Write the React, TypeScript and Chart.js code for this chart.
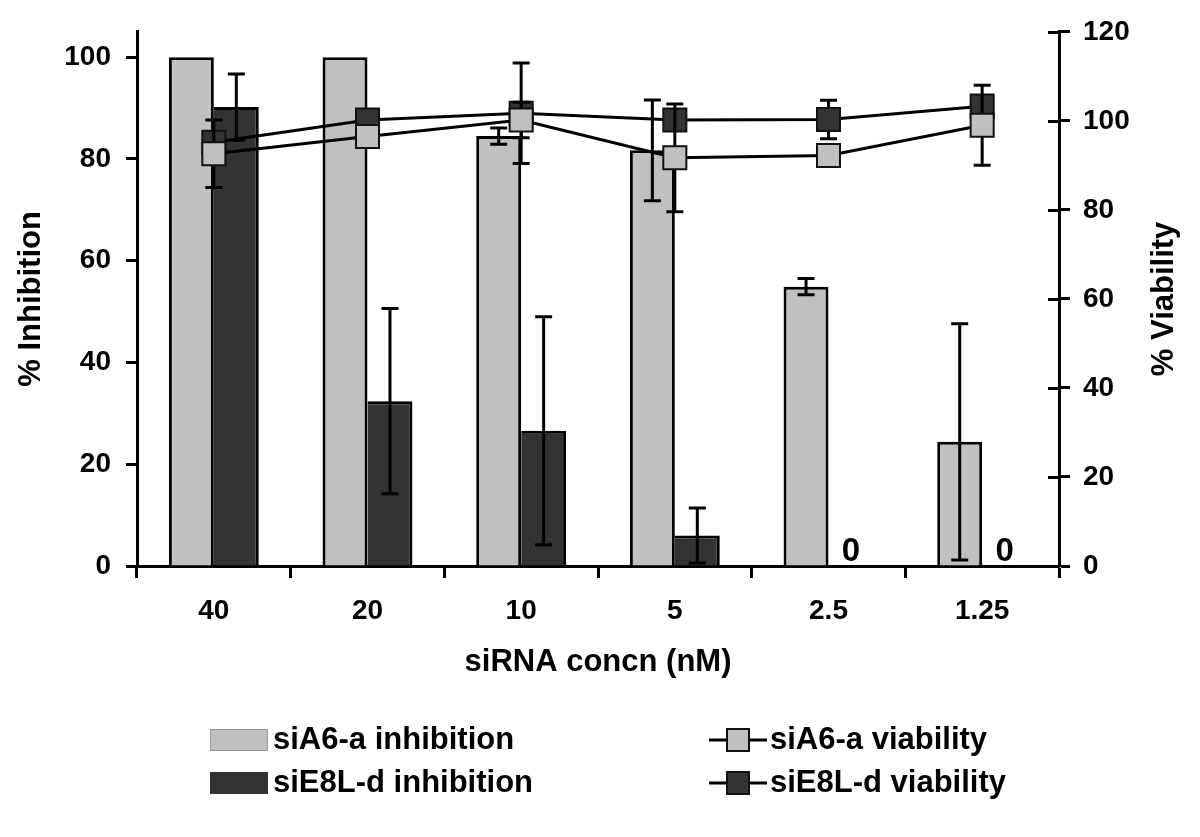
import React, { useEffect, useRef } from 'react';
import { Chart, registerables } from 'chart.js';

Chart.register(...registerables);

const categories = ['40', '20', '10', '5', '2.5', '1.25'];

const siA6Inhibition = [100, 100, 84.5, 81.7, 54.9, 24.4];
const siA6InhibitionErr = [0, 0, 1.6, 9.9, 1.6, 23.2];
const siE8LInhibition = [90.2, 32.4, 26.6, 6.0, 0, 0];
const siE8LInhibitionErr = [6.5, 18.2, 22.4, 5.4, 0, 0];

const siA6Viability = [92.6, 96.5, 100.2, 91.7, 92.2, 99.0];
const siA6ViabilityErr = [7.6, 1.0, 4.0, 12.1, 1.0, 9.0];
const siE8LViability = [95.2, 100.2, 101.7, 100.2, 100.3, 103.3];
const siE8LViabilityErr = [1.5, 1.0, 11.3, 1.5, 4.3, 2.2];

const inhibitionMax = 105;
const viabilityMax = 120;
const tickStep = 20;

const LIGHT = '#C0C0C0';
const DARK = '#333333';
const FONT = "'Liberation Sans', Arial, Helvetica, sans-serif";

const errorBarPlugin = {
  id: 'errorBars',
  beforeDatasetDraw(chart: any, args: any) {
    const ds = chart.data.datasets[args.index];
    if (ds.errorMode === 'line') drawErrors(chart, args.meta, ds);
  },
  afterDatasetDraw(chart: any, args: any) {
    const ds = chart.data.datasets[args.index];
    if (ds.errorMode === 'bar') drawErrors(chart, args.meta, ds);
  },
};

function drawErrors(chart: any, meta: any, ds: any) {
  const ctx = chart.ctx;
  const scale = chart.scales[meta.yAxisID];
  const errs: number[] = ds.errors || [];
  ctx.save();
  ctx.strokeStyle = '#000';
  ctx.lineWidth = 3;
  ctx.lineCap = 'butt';
  meta.data.forEach((el: any, i: number) => {
    const e = errs[i];
    const v = ds.data[i];
    if (!e || e <= 0) return;
    const x = el.x;
    const yTop = scale.getPixelForValue(v + e);
    const yBot = scale.getPixelForValue(Math.max(v - e, 0));
    const hw = 8.5;
    ctx.beginPath();
    ctx.moveTo(x, yTop);
    ctx.lineTo(x, yBot);
    ctx.moveTo(x - hw, yTop);
    ctx.lineTo(x + hw, yTop);
    ctx.moveTo(x - hw, yBot);
    ctx.lineTo(x + hw, yBot);
    ctx.stroke();
  });
  ctx.restore();
}

const decorPlugin = {
  id: 'decor',
  afterDraw(chart: any) {
    const ctx = chart.ctx;
    const area = chart.chartArea;
    ctx.save();
    // inner half of right-axis cross ticks
    const yVia = chart.scales.yVia;
    ctx.strokeStyle = '#000';
    ctx.lineWidth = 3;
    yVia.ticks.forEach((t: any) => {
      const y = Math.round(yVia.getPixelForValue(t.value)) + 0.5;
      ctx.beginPath();
      ctx.moveTo(area.right - 11, y);
      ctx.lineTo(area.right, y);
      ctx.stroke();
    });

    // zero value labels for siE8L-d inhibition
    const meta = chart.getDatasetMeta(1);
    ctx.fillStyle = '#000';
    ctx.font = `bold 33px ${FONT}`;
    ctx.textAlign = 'center';
    ctx.textBaseline = 'alphabetic';
    meta.data.forEach((el: any, i: number) => {
      if (siE8LInhibition[i] === 0) {
        ctx.fillText('0', el.x, area.bottom - 5);
      }
    });

    // axis titles
    ctx.font = `bold 31px ${FONT}`;
    ctx.textBaseline = 'middle';
    const midY = (area.top + area.bottom) / 2;
    ctx.save();
    ctx.translate(31, midY);
    ctx.rotate(-Math.PI / 2);
    ctx.fillText('% Inhibition', 0, 0);
    ctx.restore();
    ctx.save();
    ctx.translate(1164, midY);
    ctx.rotate(-Math.PI / 2);
    ctx.fillText('% Viability', 0, 0);
    ctx.restore();
    ctx.font = `bold 31px ${FONT}`;
    ctx.fillText('siRNA concn (nM)', (area.left + area.right) / 2, 662);

    // legend
    ctx.font = `bold 31px ${FONT}`;
    ctx.textAlign = 'left';
    ctx.textBaseline = 'middle';
    const rows = [740, 783];
    // bar swatches
    ctx.fillStyle = LIGHT;
    ctx.fillRect(210, rows[0] - 11, 58, 22);
    ctx.strokeStyle = '#999';
    ctx.lineWidth = 1;
    ctx.strokeRect(210.5, rows[0] - 10.5, 57, 21);
    ctx.fillStyle = DARK;
    ctx.fillRect(210, rows[1] - 11, 58, 22);
    ctx.fillStyle = '#000';
    ctx.fillText('siA6-a inhibition', 273, rows[0]);
    ctx.fillText('siE8L-d inhibition', 273, rows[1]);
    // line swatches
    const lineFill = [LIGHT, DARK];
    const lineLabels = ['siA6-a viability', 'siE8L-d viability'];
    rows.forEach((y, k) => {
      ctx.strokeStyle = '#000';
      ctx.lineWidth = 3;
      ctx.beginPath();
      ctx.moveTo(709, y);
      ctx.lineTo(767, y);
      ctx.stroke();
      ctx.fillStyle = lineFill[k];
      ctx.fillRect(727, y - 11, 22, 22);
      ctx.lineWidth = 2;
      ctx.strokeStyle = '#111';
      ctx.strokeRect(727, y - 11, 22, 22);
      ctx.fillStyle = '#000';
      ctx.fillText(lineLabels[k], 770, y);
    });
    ctx.restore();
  },
};

export default function App() {
  const canvasRef = useRef<HTMLCanvasElement | null>(null);

  useEffect(() => {
    if (!canvasRef.current) return;
    const tickFont = { family: FONT, size: 28, weight: 'bold' as const };
    const chart = new Chart(canvasRef.current, {
      type: 'bar',
      data: {
        labels: categories,
        datasets: [
          {
            type: 'bar',
            label: 'siA6-a inhibition',
            data: siA6Inhibition,
            errors: siA6InhibitionErr,
            errorMode: 'bar',
            yAxisID: 'yInh',
            backgroundColor: LIGHT,
            borderColor: '#000',
            borderWidth: { top: 3, left: 3, right: 3, bottom: 0 },
            borderSkipped: 'start',
            categoryPercentage: 0.585,
            barPercentage: 1.0,
            order: 3,
          } as any,
          {
            type: 'bar',
            label: 'siE8L-d inhibition',
            data: siE8LInhibition,
            errors: siE8LInhibitionErr,
            errorMode: 'bar',
            yAxisID: 'yInh',
            backgroundColor: DARK,
            borderColor: '#000',
            borderWidth: { top: 3, left: 0, right: 3, bottom: 0 },
            borderSkipped: 'start',
            categoryPercentage: 0.585,
            barPercentage: 1.0,
            order: 4,
          } as any,
          {
            type: 'line',
            label: 'siE8L-d viability',
            data: siE8LViability,
            errors: siE8LViabilityErr,
            errorMode: 'line',
            yAxisID: 'yVia',
            borderColor: '#000',
            borderWidth: 3,
            pointStyle: 'rect',
            pointRadius: 16.3,
            pointBackgroundColor: DARK,
            pointBorderColor: '#111',
            pointBorderWidth: 2,
            tension: 0,
            order: 2,
          } as any,
          {
            type: 'line',
            label: 'siA6-a viability',
            data: siA6Viability,
            errors: siA6ViabilityErr,
            errorMode: 'line',
            yAxisID: 'yVia',
            borderColor: '#000',
            borderWidth: 3,
            pointStyle: 'rect',
            pointRadius: 16.3,
            pointBackgroundColor: LIGHT,
            pointBorderColor: '#111',
            pointBorderWidth: 2,
            tension: 0,
            order: 1,
          } as any,
        ],
      },
      options: {
        animation: false,
        responsive: true,
        maintainAspectRatio: false,
        layout: { padding: { top: 31, left: 0, right: 0, bottom: 0 } },
        plugins: {
          legend: { display: false },
          tooltip: { enabled: false },
          title: { display: false },
        },
        scales: {
          x: {
            type: 'category',
            offset: true,
            grid: {
              offset: true,
              drawOnChartArea: false,
              drawTicks: true,
              tickLength: 12,
              tickWidth: 3,
              tickColor: '#000',
            },
            border: { display: true, color: '#000', width: 3 },
            ticks: {
              color: '#000',
              font: tickFont,
              padding: 16,
              autoSkip: false,
              maxRotation: 0,
            },
            afterFit: (s: any) => {
              s.height = 271;
            },
          },
          yInh: {
            type: 'linear',
            position: 'left',
            min: 0,
            max: inhibitionMax,
            grid: {
              drawOnChartArea: false,
              tickLength: 11,
              tickWidth: 3,
              tickColor: '#000',
            },
            border: { display: true, color: '#000', width: 3 },
            ticks: {
              stepSize: tickStep,
              includeBounds: false,
              color: '#000',
              font: tickFont,
              padding: 15,
            },
            afterFit: (s: any) => {
              s.width = 137;
            },
          },
          yVia: {
            type: 'linear',
            position: 'right',
            min: 0,
            max: viabilityMax,
            grid: {
              drawOnChartArea: false,
              tickLength: 11,
              tickWidth: 3,
              tickColor: '#000',
            },
            border: { display: true, color: '#000', width: 3 },
            ticks: {
              stepSize: tickStep,
              color: '#000',
              font: tickFont,
              padding: 13,
            },
            afterFit: (s: any) => {
              s.width = 141;
            },
          },
        },
      } as any,
      plugins: [errorBarPlugin, decorPlugin],
    });
    return () => chart.destroy();
  }, []);

  return (
    <div
      style={{
        position: 'absolute',
        left: 0,
        top: 0,
        width: 1200,
        height: 837,
        background: '#fff',
      }}
    >
      <canvas ref={canvasRef} />
    </div>
  );
}
